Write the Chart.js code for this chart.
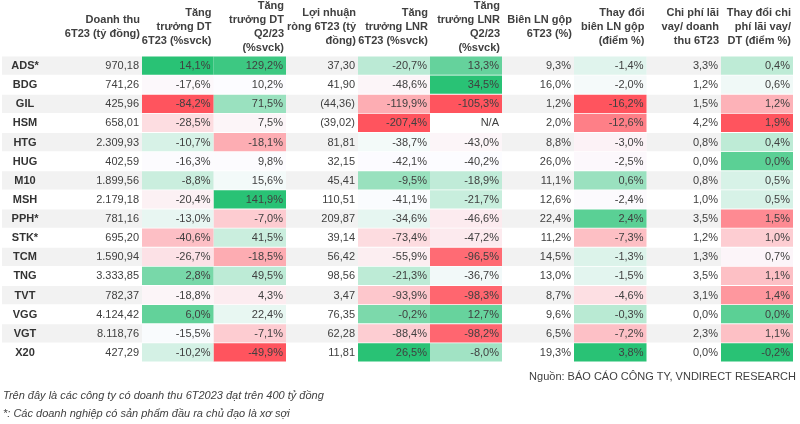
<!DOCTYPE html>
<html>
<head>
<meta charset="utf-8">
<script src="https://cdn.jsdelivr.net/npm/chart.js@4/dist/chart.umd.min.js"></script>
<style>
  html, body { margin: 0; padding: 0; background: #ffffff; }
  #wrap { width: 800px; height: 424px; position: relative; }
</style>
</head>
<body>
<div id="wrap"><canvas id="c" width="800" height="424"></canvas></div>
<script>
// ---- DATA ----
const tickers = ['ADS*','BDG','GIL','HSM','HTG','HUG','M10','MSH','PPH*','STK*','TCM','TNG','TVT','VGG','VGT','X20'];
const revenue6T23 = [970.18, 741.26, 425.96, 658.01, 2309.93, 402.59, 1899.56, 2179.18, 781.16, 695.20, 1590.94, 3333.85, 782.37, 4124.42, 8118.76, 427.29];
const revGrowth6T23 = [14.1, -17.6, -84.2, -28.5, -10.7, -16.3, -8.8, -20.4, -13.0, -40.6, -26.7, 2.8, -18.8, 6.0, -15.5, -10.2];
const revGrowthQ2 = [129.2, 10.2, 71.5, 7.5, -18.1, 9.8, 15.6, 141.9, -7.0, 41.5, -18.5, 49.5, 4.3, 22.4, -7.1, -49.9];
const netProfit6T23 = [37.30, 41.90, -44.36, -39.02, 81.81, 32.15, 45.41, 110.51, 209.87, 39.14, 56.42, 98.56, 3.47, 76.35, 62.28, 11.81];
const npGrowth6T23 = [-20.7, -48.6, -119.9, -207.4, -38.7, -42.1, -9.5, -41.1, -34.6, -73.4, -55.9, -21.3, -93.9, -0.2, -88.4, 26.5];
const npGrowthQ2 = [13.3, 34.5, -105.3, null, -43.0, -40.2, -18.9, -21.7, -46.6, -47.2, -96.5, -36.7, -98.3, 12.7, -98.2, -8.0];
const grossMargin6T23 = [9.3, 16.0, 1.2, 2.0, 8.8, 26.0, 11.1, 12.6, 22.4, 11.2, 14.5, 13.0, 8.7, 9.6, 6.5, 19.3];
const grossMarginChg = [-1.4, -2.0, -16.2, -12.6, -3.0, -2.5, 0.6, -2.4, 2.4, -7.3, -1.3, -1.5, -4.6, -0.3, -7.2, 3.8];
const interestToRev = [3.3, 1.2, 1.5, 4.2, 0.8, 0.0, 0.8, 1.0, 3.5, 1.2, 1.3, 3.5, 3.1, 0.0, 2.3, 0.0];
const interestChg = [0.4, 0.6, 1.2, 1.9, 0.4, 0.0, 0.5, 0.5, 1.5, 1.0, 0.7, 1.1, 1.4, 0.0, 1.1, -0.2];

const headers = [
  [],
  ['Doanh thu', '6T23 (tỷ đồng)'],
  ['Tăng', 'trưởng DT', '6T23 (%svck)'],
  ['Tăng', 'trưởng DT', 'Q2/23', '(%svck)'],
  ['Lợi nhuận', 'ròng 6T23 (tỷ', 'đồng)'],
  ['Tăng', 'trưởng LNR', '6T23 (%svck)'],
  ['Tăng', 'trưởng LNR', 'Q2/23', '(%svck)'],
  ['Biên LN gộp', '6T23 (%)'],
  ['Thay đổi', 'biên LN gộp', '(điểm %)'],
  ['Chi phí lãi', 'vay/ doanh', 'thu 6T23'],
  ['Thay đổi chi', 'phí lãi vay/', 'DT (điểm %)']
];
const sourceNote = 'Nguồn: BÁO CÁO CÔNG TY, VNDIRECT RESEARCH';
const footNotes = ['Trên đây là các công ty có doanh thu 6T2023 đạt trên 400 tỷ đồng',
                   '*: Các doanh nghiệp có sản phẩm đầu ra chủ đạo là xơ sợi'];

// ---- LAYOUT / STYLE ----
const colEdges = [2, 48, 142, 213.5, 286, 358, 430, 502, 574, 646.5, 721, 793];
// column definitions: values, format, colour scale (null = none, 1 = high green, -1 = high red)
const fmtNum = (v) => {
  const neg = v < 0;
  const s = Math.abs(v).toFixed(2).split('.');
  const int = s[0].replace(/\B(?=(\d{3})+(?!\d))/g, '.');
  const out = int + ',' + s[1];
  return neg ? '(' + out + ')' : out;
};
const fmtPct = (v) => v === null ? 'N/A' : v.toFixed(1).replace('.', ',') + '%';
const columns = [
  { values: tickers, fmt: (v) => v, scale: null },
  { values: revenue6T23, fmt: fmtNum, scale: null },
  { values: revGrowth6T23, fmt: fmtPct, scale: 1 },
  { values: revGrowthQ2, fmt: fmtPct, scale: 1 },
  { values: netProfit6T23, fmt: fmtNum, scale: null },
  { values: npGrowth6T23, fmt: fmtPct, scale: 1 },
  { values: npGrowthQ2, fmt: fmtPct, scale: 1 },
  { values: grossMargin6T23, fmt: fmtPct, scale: null },
  { values: grossMarginChg, fmt: fmtPct, scale: 1 },
  { values: interestToRev, fmt: fmtPct, scale: null },
  { values: interestChg, fmt: fmtPct, scale: -1 }
];

const GREEN = [41, 194, 117];
const RED = [255, 84, 94];
const MID = [252, 252, 255];
const ROW_GRAY = '#f2f2f2';
const TEXT = '#404040';
const FONT = "'Liberation Sans', Arial, sans-serif";

function mix(a, b, t) {
  return 'rgb(' + a.map((x, i) => Math.round(x + (b[i] - x) * t)).join(',') + ')';
}
function colourColumn(vals, dir) {
  const nums = vals.filter(v => v !== null).slice().sort((a, b) => a - b);
  const n = nums.length;
  const median = n % 2 ? nums[(n - 1) / 2] : (nums[n / 2 - 1] + nums[n / 2]) / 2;
  const lo = nums[0], hi = nums[n - 1];
  return vals.map(v => {
    if (v === null) return '#ffffff';
    const hiCol = dir > 0 ? GREEN : RED;
    const loCol = dir > 0 ? RED : GREEN;
    if (v >= median) return mix(MID, hiCol, hi === median ? 0 : (v - median) / (hi - median));
    return mix(MID, loCol, (median - v) / (median - lo));
  });
}

const datasets = columns.map((col, c) => {
  const colours = col.scale === null
    ? tickers.map((_, i) => (i % 2 === 0 ? ROW_GRAY : '#ffffff'))
    : colourColumn(col.values, col.scale);
  return {
    label: 'col' + c,
    data: tickers.map(() => [colEdges[c], colEdges[c + 1]]),
    backgroundColor: colours,
    borderWidth: 0,
    grouped: false,
    barPercentage: 0.95,
    categoryPercentage: 1
  };
});

const textPlugin = {
  id: 'tableText',
  afterDatasetsDraw(chart) {
    const ctx = chart.ctx;
    const xs = chart.scales.x, ys = chart.scales.y;
    ctx.save();
    ctx.textBaseline = 'middle';
    // headers
    ctx.fillStyle = TEXT;
    ctx.font = 'bold 11px ' + FONT;
    ctx.textAlign = 'right';
    const headCenter = 26.5, lineH = 14;
    headers.forEach((lines, c) => {
      const xr = xs.getPixelForValue(colEdges[c + 1]) - 2;
      const start = headCenter - (lines.length - 1) * lineH / 2;
      lines.forEach((ln, k) => ctx.fillText(ln, xr, start + k * lineH));
    });
    // body
    columns.forEach((col, c) => {
      col.values.forEach((v, i) => {
        const y = ys.getPixelForValue(i) + 0.5;
        if (c === 0) {
          ctx.font = 'bold 11px ' + FONT;
          ctx.fillStyle = '#333333';
          ctx.textAlign = 'center';
          ctx.fillText(col.fmt(v), (xs.getPixelForValue(colEdges[0]) + xs.getPixelForValue(colEdges[1])) / 2, y);
        } else {
          ctx.font = '11px ' + FONT;
          ctx.fillStyle = TEXT;
          ctx.textAlign = 'right';
          ctx.fillText(col.fmt(v), xs.getPixelForValue(colEdges[c + 1]) - 3, y);
        }
      });
    });
    // footer
    ctx.font = '11px ' + FONT;
    ctx.fillStyle = TEXT;
    ctx.textAlign = 'right';
    ctx.fillText(sourceNote, 796, 377);
    ctx.font = 'italic 11px ' + FONT;
    ctx.textAlign = 'left';
    ctx.fillText(footNotes[0], 3, 396);
    ctx.fillText(footNotes[1], 3, 414);
    ctx.restore();
  }
};

new Chart(document.getElementById('c'), {
  type: 'bar',
  data: { labels: tickers, datasets: datasets },
  options: {
    indexAxis: 'y',
    responsive: false,
    devicePixelRatio: 1,
    animation: false,
    layout: { padding: { left: 0, right: 0, top: 56, bottom: 62 } },
    scales: {
      x: { type: 'linear', min: 0, max: 800, display: false },
      y: { type: 'category', display: false, offset: true }
    },
    plugins: { legend: { display: false }, tooltip: { enabled: false } }
  },
  plugins: [textPlugin]
});
</script>
</body>
</html>
